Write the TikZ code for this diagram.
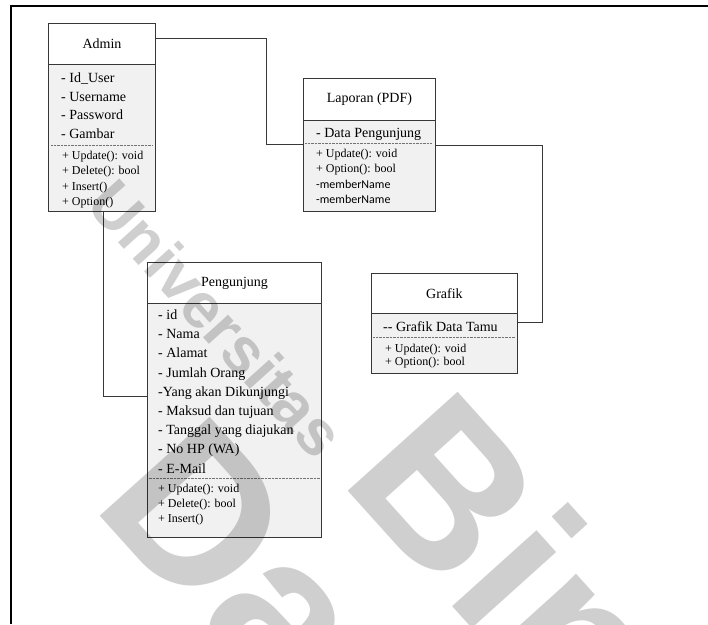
\documentclass[tikz,border=0pt]{standalone}
\usepackage{fontspec}
\setmainfont{Liberation Serif}
\newfontfamily\carfont{Carlito}
\newfontfamily\wmfont{Liberation Sans}
\usetikzlibrary{calc}
\definecolor{bodyfill}{RGB}{241,241,241}
\definecolor{edge}{RGB}{55,55,55}
\tikzset{
  hdr/.style={draw=edge, line width=0.9pt, fill=white, anchor=north west, inner sep=0pt, font=\fontsize{14}{16}\selectfont},
  body/.style={draw=edge, line width=0.9pt, fill=bodyfill, anchor=north west, inner sep=0pt},
  attr/.style={anchor=base west, inner sep=0pt, font=\fontsize{14}{16}\selectfont},
  meth/.style={anchor=base west, inner sep=0pt, font=\fontsize{12}{14}\selectfont},
  smeth/.style={anchor=base west, inner sep=0pt, font=\carfont\fontsize{12}{14}\selectfont},
  sepline/.style={black!55, line width=0.8pt, dash pattern=on 0.7pt off 0.7pt},
  conn/.style={draw=black!78, line width=0.9pt},
  wm/.style={anchor=base west, inner sep=0pt, rotate=-48, text=black, opacity=0.19}
}
\begin{document}
\begin{tikzpicture}[x=1pt,y=-1pt]
\useasboundingbox (0,0) rectangle (708,624);
% frame
\draw[line width=2pt] (11,624) -- (11,6) -- (708,6);

% ---------- Admin ----------
\node[hdr, minimum width=107pt, minimum height=41pt] (adminH) at (48,23) {Admin};
\node[body, minimum width=107pt, minimum height=147pt] (adminB) at (48,64) {};
\node[attr] (a1) at (61,82.5) {- Id\_User};
\node[attr] (a2) at (61,101) {- Username};
\node[attr] (a3) at (61,119.5) {- Password};
\node[attr] (a4) at (61,138) {- Gambar};
\draw[sepline] (51,145) -- (153,145);
\node[meth] (am1) at (62,159) {+ Update(): void};
\node[meth] (am2) at (62,174.5) {+ Delete(): bool};
\node[meth] (am3) at (62,190) {+ Insert()};
\node[meth] (am4) at (62,205) {+ Option()};

% ---------- Laporan ----------
\node[hdr, minimum width=132pt, minimum height=42pt] (lapH) at (303,78) {Laporan (PDF)};
\node[body, minimum width=132pt, minimum height=91pt] (lapB) at (303,120) {};
\node[attr] (l1) at (316,137) {- Data Pengunjung};
\draw[sepline] (305,143) -- (432,143);
\node[meth] (lm1) at (316,157) {+ Update(): void};
\node[meth] (lm2) at (316,172) {+ Option(): bool};
\node[smeth] (lm3) at (316,188) {-memberName};
\node[smeth] (lm4) at (316,203) {-memberName};

% ---------- Grafik ----------
\node[hdr, minimum width=146pt, minimum height=40pt] (grfH) at (371,273) {Grafik};
\node[body, minimum width=146pt, minimum height=60pt] (grfB) at (371,313) {};
\node[attr] (g1) at (383,331.5) {-{}- Grafik Data Tamu};
\draw[sepline] (373,337) -- (515,337);
\node[meth] (gm1) at (385,352) {+ Update(): void};
\node[meth] (gm2) at (385,365) {+ Option(): bool};

% ---------- Pengunjung ----------
\node[hdr, minimum width=174pt, minimum height=41pt] (pengH) at (147,262) {Pengunjung};
\node[body, minimum width=174pt, minimum height=234pt] (pengB) at (147,303) {};
\node[attr] (p1) at (158,319.5) {- id};
\node[attr] (p2) at (158,338.7) {- Nama};
\node[attr] (p3) at (158,357.8) {- Alamat};
\node[attr] (p4) at (158,377) {- Jumlah Orang};
\node[attr] (p5) at (158,396.2) {-Yang akan Dikunjungi};
\node[attr] (p6) at (158,415.4) {- Maksud dan tujuan};
\node[attr] (p7) at (158,434.6) {- Tanggal yang diajukan};
\node[attr] (p8) at (158,453.8) {- No HP (WA)};
\node[attr] (p9) at (158,473) {- E-Mail};
\draw[sepline] (148.5,478) -- (319.5,478);
\node[meth] (pm1) at (158,492.5) {+ Update(): void};
\node[meth] (pm2) at (158,507.5) {+ Delete(): bool};
\node[meth] (pm3) at (158,522.5) {+ Insert()};

% ---------- connectors ----------
\coordinate (b1) at (266,144);
\draw[conn] ([yshift=5.5pt]adminH.east) -| (b1) -- (b1 -| lapB.west);
\coordinate (b2) at (542,145);
\coordinate (b3) at (542,322);
\draw[conn] (b2 -| lapB.east) -- (b2) -- (b3) -- (b3 -| grfB.east);
\coordinate (b4) at (103,396);
\draw[conn] (b4 |- adminB.south) -- (b4) -- (b4 -| pengB.west);

% ---------- watermark ----------
\node[wm, font=\wmfont\bfseries\fontsize{64}{64}\selectfont] (wmU) at (84,205) {Universitas};
\node[wm, font=\wmfont\bfseries\fontsize{215}{215}\selectfont] (wmB) at (338,480) {Bina};
\node[wm, font=\wmfont\bfseries\fontsize{215}{215}\selectfont] (wmD) at (90,505) {Darma};
\end{tikzpicture}
\end{document}
